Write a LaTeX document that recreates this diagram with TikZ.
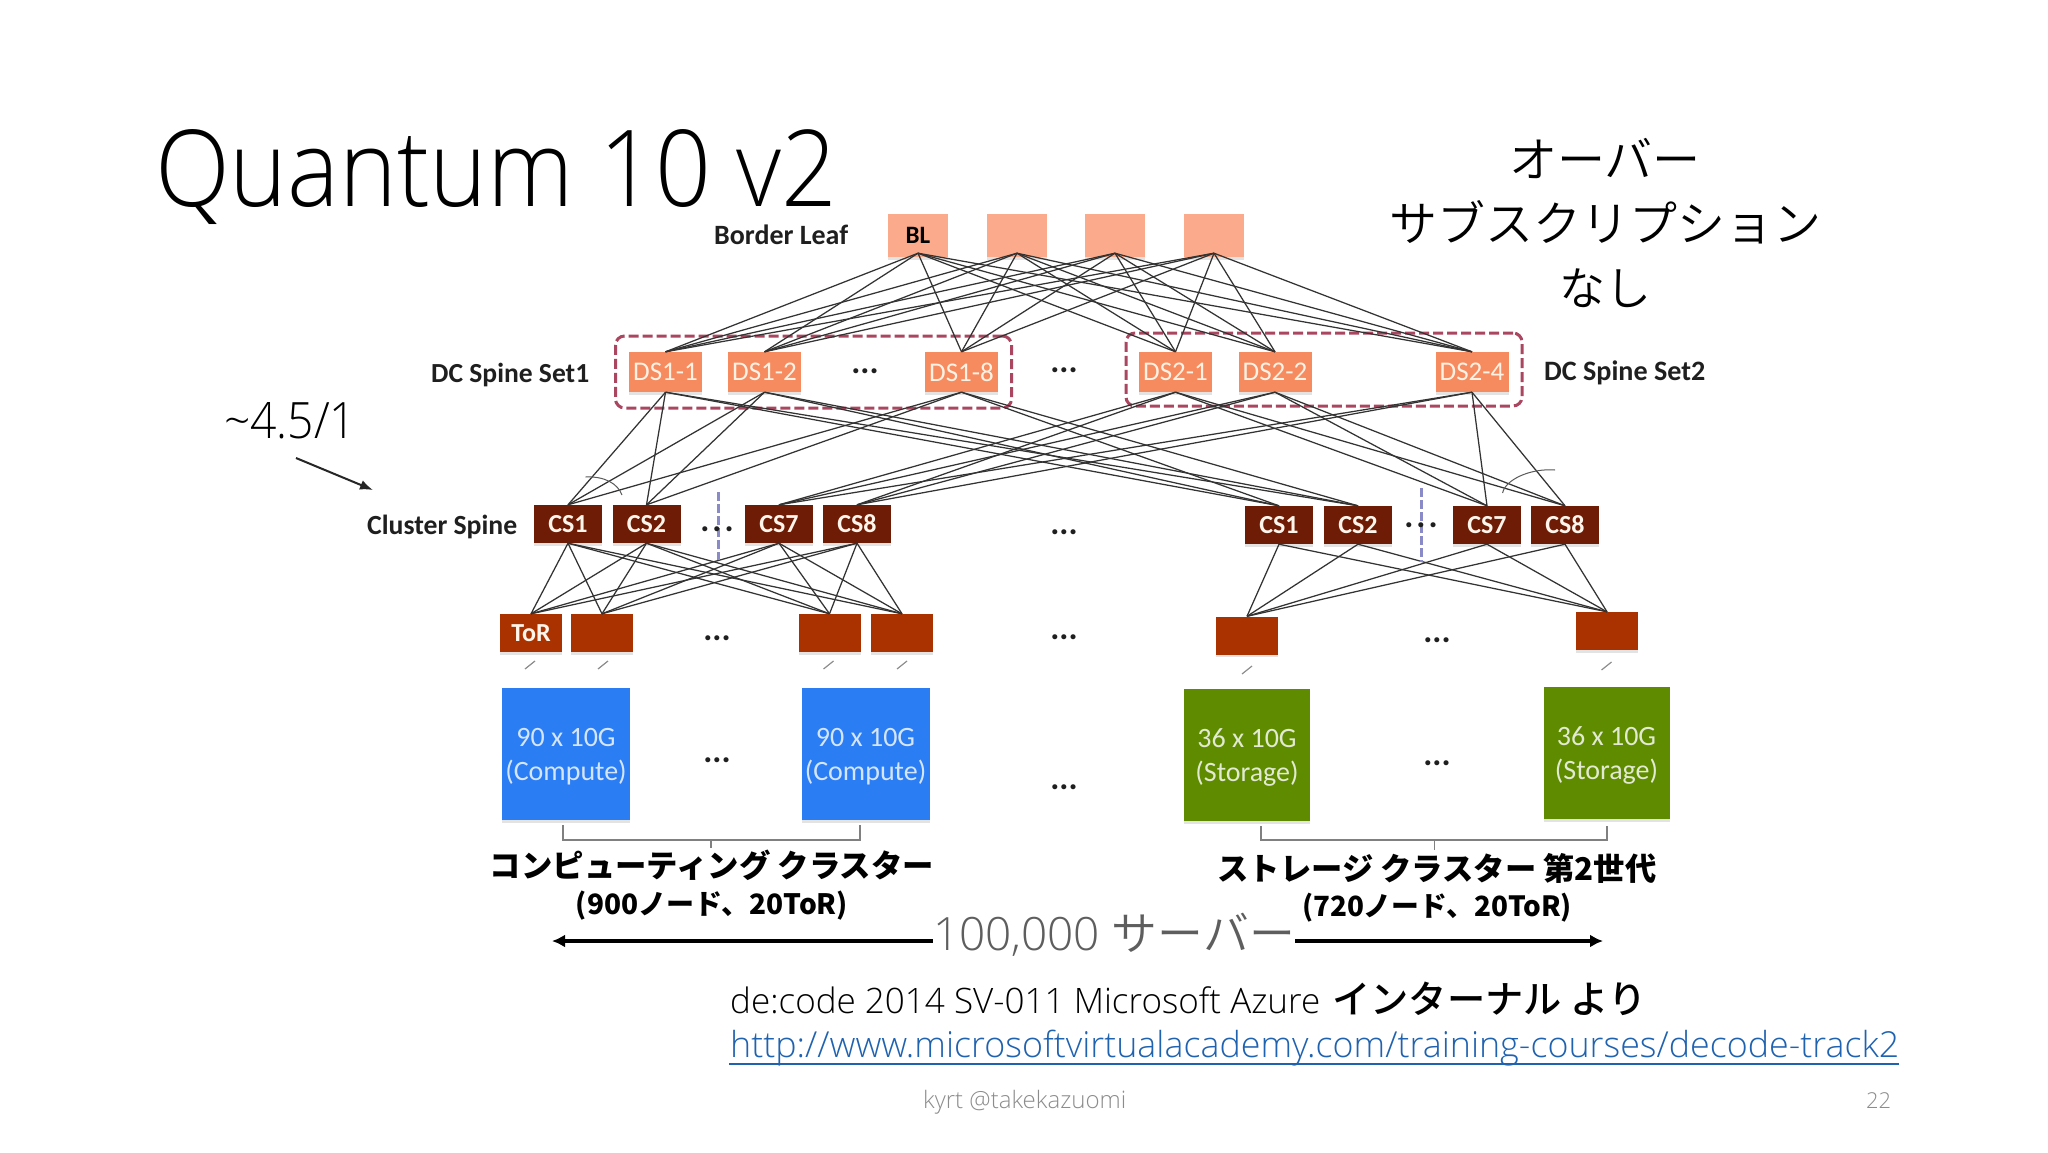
\documentclass[tikz,border=0pt]{standalone}
\usepackage{fontspec}
\usepackage{graphicx}
\setmainfont{Carlito}
\newfontfamily\lt{Open Sans Light}
\newfontfamily\cjk{Noto Sans CJK JP}
\newfontfamily\cjkl{Noto Sans CJK JP DemiLight}
\newfontfamily\cjkm{Noto Sans CJK JP Medium}
\usetikzlibrary{arrows.meta,shadows}
\newcommand{\fz}[1]{\fontsize{#1pt}{#1pt}\selectfont}
\newcommand{\fw}[2]{\resizebox{#1pt}{!}{#2}}
\definecolor{blc}{HTML}{FBAB8B}
\definecolor{dsc}{HTML}{F58B5E}
\definecolor{csc}{HTML}{6E1C06}
\definecolor{torc}{HTML}{A93200}
\definecolor{bluec}{HTML}{2A7DF3}
\definecolor{greenc}{HTML}{5F8B00}
\definecolor{setc}{HTML}{AB4660}
\definecolor{wirec}{HTML}{333333}
\definecolor{greytx}{HTML}{5E5E5E}
\definecolor{linkc}{HTML}{1F62B0}
\definecolor{vdc}{HTML}{8A8AC8}
\tikzset{
  x=1pt,y=-1pt,
  box/.style={rectangle,inner sep=0pt,drop shadow={shadow xshift=0pt,shadow yshift=-2.5pt,opacity=.22}},
  blbox/.style={box,fill=blc,minimum width=60pt,minimum height=43pt,font=\bfseries\fz{25},text=black},
  dsbox/.style={box,fill=dsc,minimum width=73pt,minimum height=40pt,font=\fz{27},text=white!90!orange},
  csbox/.style={box,fill=csc,minimum width=68pt,minimum height=38pt,font=\bfseries\fz{26},text=white!92!orange},
  torbox/.style={box,fill=torc,minimum width=62pt,minimum height=38pt,font=\bfseries\fz{26},text=white!92!orange},
  srvblue/.style={box,fill=bluec,minimum width=128pt,minimum height=132pt,align=center,font=\fz{28},text=white!80!bluec},
  srvgreen/.style={box,fill=greenc,minimum width=126pt,minimum height=132pt,align=center,font=\fz{28},text=white!82!greenc},
  setbox/.style={rectangle,draw=setc,line width=3pt,rounded corners=9pt,dash pattern=on 10pt off 4pt,inner sep=0pt},
  wire/.style={draw=wirec,line width=1.25pt},
  lab/.style={inner sep=0pt,anchor=base west,font=\bfseries\fz{26},text=black!88},
  txt/.style={inner sep=0pt,anchor=base west},
  ctr/.style={inner sep=0pt,anchor=base},
  dotsn/.style={inner sep=0pt,anchor=base,font=\bfseries\fz{34},text=black!88},
  vdash/.style={draw=vdc,line width=3pt,dash pattern=on 9pt off 3pt},
  tick/.style={draw=black!45,line width=1.2pt},
  brk/.style={draw=black!50,line width=1.4pt},
  big/.style={line width=3.4pt,-{Latex[length=13pt,width=13pt]}},
}
\begin{document}
\begin{tikzpicture}
\useasboundingbox[fill=white] (0,0) rectangle (2048,1152);
% title and headings
\node[txt] (title) at (155,206) {\resizebox{682pt}{77pt}{\lt\fz{106}Quantum 10 v2}};
\node[ctr,font=\cjkl\fz{48}] (over1) at (1605,177) {\fw{192}{オーバー}};
\node[ctr,font=\cjkl\fz{48}] (over2) at (1605,241) {\fw{432}{サブスクリプション}};
\node[ctr,font=\cjkl\fz{48}] (over3) at (1605,305) {\fw{92}{なし}};
\node[txt] (ratio) at (224,438) {\resizebox{132pt}{36pt}{\lt\fz{48}\textasciitilde 4.5/1}};
% side labels
\node[lab] (lbl1) at (714,244) {\fw{134}{Border Leaf}};
\node[lab] (lbl2) at (431,382) {\fw{158}{DC Spine Set1}};
\node[lab] (lbl3) at (1544,380) {\fw{161}{DC Spine Set2}};
\node[lab] (lbl4) at (367,534) {\fw{150}{Cluster Spine}};
\coordinate (ra) at (296,458);
\coordinate (rb) at (373,490);
\draw[draw=black!85,line width=2pt,-{Latex[length=13pt,width=10pt]}] (ra) -- (rb);
% dashed sets
\node[setbox,minimum width=396pt,minimum height=72pt] (set1) at (813.5,372) {};
\node[setbox,minimum width=396pt,minimum height=73pt] (set2) at (1324,369.5) {};
% border leaf
\node[blbox] (b1) at (918,235.5) {BL};
\node[blbox] (b2) at (1017,235.5) {};
\node[blbox] (b3) at (1115,235.5) {};
\node[blbox] (b4) at (1214,235.5) {};
% dc spine
\node[dsbox] (d1) at (665.5,372) {DS1-1};
\node[dsbox] (d2) at (764.5,372) {DS1-2};
\node[dsbox] (d3) at (961.5,372) {DS1-8};
\node[dsbox] (d4) at (1175.5,372) {DS2-1};
\node[dsbox] (d5) at (1275,372) {DS2-2};
\node[dsbox] (d6) at (1472,372) {DS2-4};
% cluster spine
\node[csbox] (c1) at (568,524) {CS1};
\node[csbox] (c2) at (646.5,524) {CS2};
\node[csbox] (c3) at (779,524) {CS7};
\node[csbox] (c4) at (857,524) {CS8};
\node[csbox] (c5) at (1279,525) {CS1};
\node[csbox] (c6) at (1358,525) {CS2};
\node[csbox] (c7) at (1487,525) {CS7};
\node[csbox] (c8) at (1565,525) {CS8};
% tor
\node[torbox] (t1) at (531,633) {ToR};
\node[torbox] (t2) at (602,633) {};
\node[torbox] (t3) at (829.5,633) {};
\node[torbox] (t4) at (902,633) {};
\node[torbox] (t5) at (1247,635.5) {};
\node[torbox] (t6) at (1607,631) {};
% servers
\node[srvblue] (s1) at (566,754) {\rule{0pt}{23pt}90 x 10G\\[6pt](Compute)};
\node[srvblue] (s2) at (865.5,754) {\rule{0pt}{23pt}90 x 10G\\[6pt](Compute)};
\node[srvgreen] (s3) at (1247,755) {\rule{0pt}{23pt}36 x 10G\\[6pt](Storage)};
\node[srvgreen] (s4) at (1606.5,753) {\rule{0pt}{23pt}36 x 10G\\[6pt](Storage)};
% wires
\foreach \a in {b1,b2,b3,b4}\foreach \b in {d1,d2,d3,d4,d5,d6}
  \draw[wire] ([yshift=4pt]\a.south) -- (\b.north);
\foreach \a in {d1,d2,d3}\foreach \b in {c1,c2,c5,c6}
  \draw[wire] (\a.south) -- (\b.north);
\foreach \a in {d4,d5,d6}\foreach \b in {c3,c4,c7,c8}
  \draw[wire] (\a.south) -- (\b.north);
\foreach \a in {c1,c2,c3,c4}\foreach \b in {t1,t2,t3,t4}
  \draw[wire] (\a.south) -- (\b.north);
\foreach \a in {c5,c6,c7,c8}\foreach \b in {t5,t6}
  \draw[wire] (\a.south) -- (\b.north);
% small arcs
\draw[draw=black!65,line width=1pt] (585.5,477) .. controls (605,476) and (618,484) .. (622,495);
\draw[draw=black!65,line width=1pt] (1502.6,493) .. controls (1505,480) and (1530,468) .. (1555,470);
% vertical dashes
\draw[vdash] (718.5,492) -- (718.5,560);
\draw[vdash] (1421,488) -- (1421,562);
% dots
\node[dotsn] (n1) at (865,373) {...};
\node[dotsn] (n2) at (1064,372) {...};
\node[dotsn] (n3) at (717,531) {.\hspace{3pt}.\hspace{3pt}.};
\node[dotsn] (n4) at (1064,534) {...};
\node[dotsn] (n5) at (1421,527) {.\hspace{3pt}.\hspace{3pt}.};
\node[dotsn] (n6) at (717,640) {...};
\node[dotsn] (n7) at (1064,639) {...};
\node[dotsn] (n8) at (1437,642) {...};
\node[dotsn] (n9) at (717,762) {...};
\node[dotsn] (n10) at (1064,789) {...};
\node[dotsn] (n11) at (1437,765) {...};
% port ticks
\foreach \p/\q in {530/665,603/665,828.5/665,902/665,1247/670,1606.5/666}
  \draw[tick] (\p-5,\q+4) -- (\p+5,\q-4);
% brackets
\draw[brk] (563,825) -- (563,840) -- (860,840) -- (860,825);
\draw[brk] (711,840) -- (711,848);
\draw[brk] (1261,826) -- (1261,840) -- (1607,840) -- (1607,826);
\draw[brk] (1434.5,840) -- (1434.5,850);
% cluster captions
\node[ctr] (cap1) at (712,877) {\fw{444}{\cjk\bfseries\fz{31}コンピューティング クラスター}};
\node[ctr] (cap2) at (712,914) {\fw{272}{\cjk\bfseries\fz{27}(900ノード、20ToR)}};
\node[ctr] (cap3) at (1437,880) {\fw{439}{\cjk\bfseries\fz{31}ストレージ クラスター 第2世代}};
\node[ctr] (cap4) at (1437,916) {\fw{270}{\cjk\bfseries\fz{27}(720ノード、20ToR)}};
% servers arrow
\node[inner sep=0pt,text=greytx] (srv) at (1114,935) {\fw{362}{\lt\fz{48}100,000 \cjkl サーバー}};
\coordinate (al) at (552,941);
\coordinate (ar) at (1603,941);
\draw[big] (srv.west|-al) -- (al);
\draw[big] (srv.east|-ar) -- (ar);
% footer
\node[txt] (src) at (730,1013) {\fw{590}{\lt\fz{38}de:code 2014 SV-011 Microsoft Azure}\hspace{12pt}\fw{314}{\cjkm\fz{36}インターナル より}};
\node[txt,text=linkc] (link) at (730,1057) {\fw{1169}{\lt\fz{38}http://www.microsoftvirtualacademy.com/training-courses/decode-track2}};
\draw[draw=linkc,line width=2.6pt] (729,1064) -- (1899,1064);
\node[txt,text=black!45] (foot) at (923,1108) {\fw{203}{\lt\fz{26}kyrt @takekazuomi}};
\node[txt,text=black!45] (page) at (1866,1108) {\fw{25}{\lt\fz{26}22}};
\end{tikzpicture}
\end{document}
